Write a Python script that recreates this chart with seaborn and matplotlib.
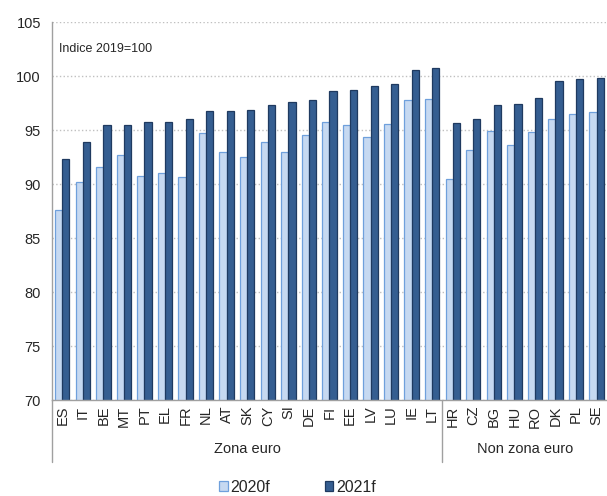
import matplotlib
matplotlib.use('Agg')
from matplotlib import pyplot as plt
import pandas as pd
import seaborn as sns

# Dati (indice 2019=100)
paesi = ['ES', 'IT', 'BE', 'MT', 'PT', 'EL', 'FR', 'NL', 'AT', 'SK', 'CY', 'SI', 'DE',
         'FI', 'EE', 'LV', 'LU', 'IE', 'LT',
         'HR', 'CZ', 'BG', 'HU', 'RO', 'DK', 'PL', 'SE']
val_2020 = [87.6, 90.2, 91.6, 92.7, 90.75, 91.05, 90.65, 94.7, 92.95, 92.5, 93.9, 92.95, 94.5,
            95.75, 95.45, 94.4, 95.6, 97.75, 97.85,
            90.45, 93.15, 94.95, 93.65, 94.85, 96.05, 96.5, 96.7]
val_2021 = [92.3, 93.9, 95.45, 95.45, 95.7, 95.7, 96.0, 96.8, 96.8, 96.9, 97.35, 97.6, 97.75,
            98.6, 98.7, 99.1, 99.3, 100.55, 100.75,
            95.65, 96.05, 97.3, 97.45, 97.95, 99.5, 99.7, 99.85]
n_euro = 19
gruppi = ['Zona euro', 'Non zona euro']
anni = ['2020f', '2021f']

df = pd.DataFrame({'Paese': paesi * 2,
                   'Valore': val_2020 + val_2021,
                   'Anno': [anni[0]] * len(paesi) + [anni[1]] * len(paesi)})

sns.set_style('white')
plt.rcParams['font.family'] = ['Liberation Sans', 'DejaVu Sans']

fig = plt.figure(figsize=(6.07, 4.96), dpi=100)
ax = fig.add_axes([0.0857, 0.1935, 0.914, 0.762])

colori = {'2020f': '#C6D9F1', '2021f': '#355E91'}
bordi = {'2020f': '#6FA0DC', '2021f': '#1F3A60'}
sns.barplot(data=df, x='Paese', y='Valore', hue='Anno', palette=colori,
            saturation=1, width=0.7, ax=ax, legend=True)
for cont, anno in zip(ax.containers, anni):
    for bar in cont:
        bar.set_edgecolor(bordi[anno])
        bar.set_linewidth(0.9)

ax.set_ylim(70, 105)
ax.set_xlim(-0.5, len(paesi) - 0.5)
ax.set_yticks(range(70, 106, 5))
ax.yaxis.grid(True, color='#c0c0c0', linestyle=':', linewidth=1)
ax.set_axisbelow(True)
ax.tick_params(axis='y', labelsize=10.5, length=0, pad=8)
ax.tick_params(axis='x', labelsize=10.5, length=0, pad=4, labelrotation=90)
ax.set_xlabel('')
ax.set_ylabel('')
for s in ['top', 'right']:
    ax.spines[s].set_visible(False)
for s in ['left', 'bottom']:
    ax.spines[s].set_color('#a0a0a0')
    ax.spines[s].set_linewidth(1)

# linee di separazione dei gruppi sotto l'asse
trans = ax.get_xaxis_transform()
for xpos in [-0.5, n_euro - 0.5]:
    ax.plot([xpos, xpos], [0, -0.163], transform=trans, color='#a0a0a0',
            linewidth=1, clip_on=False)
ax.text((n_euro - 1) / 2, -0.13, gruppi[0], transform=trans, ha='center',
        va='center', fontsize=10.5)
ax.text((n_euro + len(paesi) - 1) / 2, -0.13, gruppi[1], transform=trans,
        ha='center', va='center', fontsize=10.5)

ax.text(0.012, 0.93, 'Indice 2019=100', transform=ax.transAxes, fontsize=9,
        ha='left', va='center')

handles, labels = ax.get_legend_handles_labels()
ax.get_legend().remove()
for h, anno in zip(handles, anni):
    h.set_edgecolor(bordi[anno])
    h.set_linewidth(0.9)
fig.legend(handles, labels, loc='center', bbox_to_anchor=(0.49, 0.018), ncol=2,
           frameon=False, fontsize=11.5, handlelength=0.55, handleheight=0.55,
           handletextpad=0.15, columnspacing=3.4)

plt.savefig('out.png', dpi=100)
